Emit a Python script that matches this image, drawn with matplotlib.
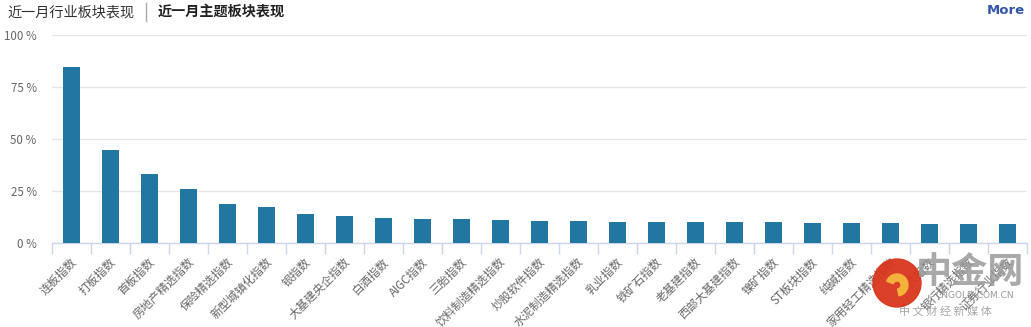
import matplotlib
matplotlib.use("Agg")
import matplotlib.pyplot as plt
from matplotlib.patches import Circle, Wedge

plt.rcParams['font.family'] = ['Noto Sans CJK SC', 'DejaVu Sans']

categories = ["连板指数", "打板指数", "首板指数", "房地产精选指数", "保险精选指数",
              "新型城镇化指数", "银指数", "大基建央企指数", "白酒指数", "AIGC指数",
              "三胎指数", "饮料制造精选指数", "炒股软件指数", "水泥制造精选指数", "乳业指数",
              "铁矿石指数", "老基建指数", "西部大基建指数", "镍矿指数", "ST板块指数",
              "纯碱指数", "家用轻工精选指数", "钢铁指数", "银行精选指数", "证券行业指数"]
values = [84.8, 44.9, 33.3, 26.1, 18.9, 17.5, 14.1, 13.1, 12.2, 11.7,
          11.7, 11.2, 10.7, 10.7, 10.2, 10.2, 10.2, 10.2, 10.2, 9.7,
          9.7, 9.7, 9.3, 9.3, 9.3]
yticks = [0, 25, 50, 75, 100]
ytick_labels = ["0 %", "25 %", "50 %", "75 %", "100 %"]

W, H = 1031, 327
fig = plt.figure(figsize=(W / 100, H / 100), dpi=100)
ax = fig.add_axes([52 / W, 1 - 243 / H, 975 / W, 208 / H])

x = list(range(len(categories)))
ax.bar(x, values, width=0.46, color='#2277a2', zorder=3)
ax.set_xlim(-0.5, len(categories) - 0.5)
ax.set_ylim(0, 100)

ax.set_yticks(yticks)
ax.set_yticklabels(ytick_labels)
ax.grid(axis='y', color='#e6e6e6', linewidth=1, zorder=0)
ax.tick_params(axis='y', length=0, pad=11, labelsize=8.3, labelcolor='#666666')

ax.set_xticks([i - 0.5 for i in range(len(categories) + 1)])
ax.set_xticklabels([])
ax.tick_params(axis='x', length=8, width=1, color='#ccd6eb', direction='out')
for i, lab in enumerate(categories):
    ax.annotate(lab, xy=(i, 0), xycoords=('data', 'axes fraction'),
                xytext=(-1, -9), textcoords='offset points',
                rotation=45, ha='right', va='top', rotation_mode='anchor',
                fontsize=8.3, color='#666666', annotation_clip=False)

for s in ['top', 'right', 'left']:
    ax.spines[s].set_visible(False)
ax.spines['bottom'].set_color('#ccd6eb')
ax.spines['bottom'].set_linewidth(1)

# header
fig.text(7 / W, 1 - 12 / H, "近一月行业板块表现", fontsize=10.2, color='#333333',
         ha='left', va='center')
fig.add_artist(plt.Line2D([146 / W, 146 / W], [1 - 3 / H, 1 - 21 / H],
                          color='#aaaaaa', linewidth=1))
fig.text(158 / W, 1 - 12 / H, "近一月主题板块表现", fontsize=10.2, color='#222222',
         ha='left', va='center', fontweight='bold')
fig.text(1025 / W, 1 - 10 / H, "More", fontsize=9.5, color='#3355aa',
         ha='right', va='center', fontweight='bold', family='DejaVu Sans')

# watermark
wm = fig.add_axes([0, 0, 1, 1], facecolor='none')
wm.set_xlim(0, W)
wm.set_ylim(H, 0)
wm.axis('off')
wm.add_patch(Circle((897, 283), 24, color='#d9361c', alpha=0.95, zorder=5))
wm.add_patch(Wedge((897, 285), 11, 200, 80, width=7, color='#f5b23a', zorder=6))
wm.text(970, 272, "中金网", fontsize=26, color='#9a9a9a', ha='center', va='center',
        fontweight='bold', alpha=0.85, zorder=6)
wm.text(1014, 296, "CNGOLD.COM.CN", fontsize=6.5, color='#888888', ha='right',
        va='center', family='DejaVu Sans', alpha=0.85, zorder=6)
wm.text(945, 311, "中 文 财 经 新 媒 体", fontsize=8, color='#999999', ha='center',
        va='center', alpha=0.85, zorder=6)

fig.savefig("out.png", dpi=100)
